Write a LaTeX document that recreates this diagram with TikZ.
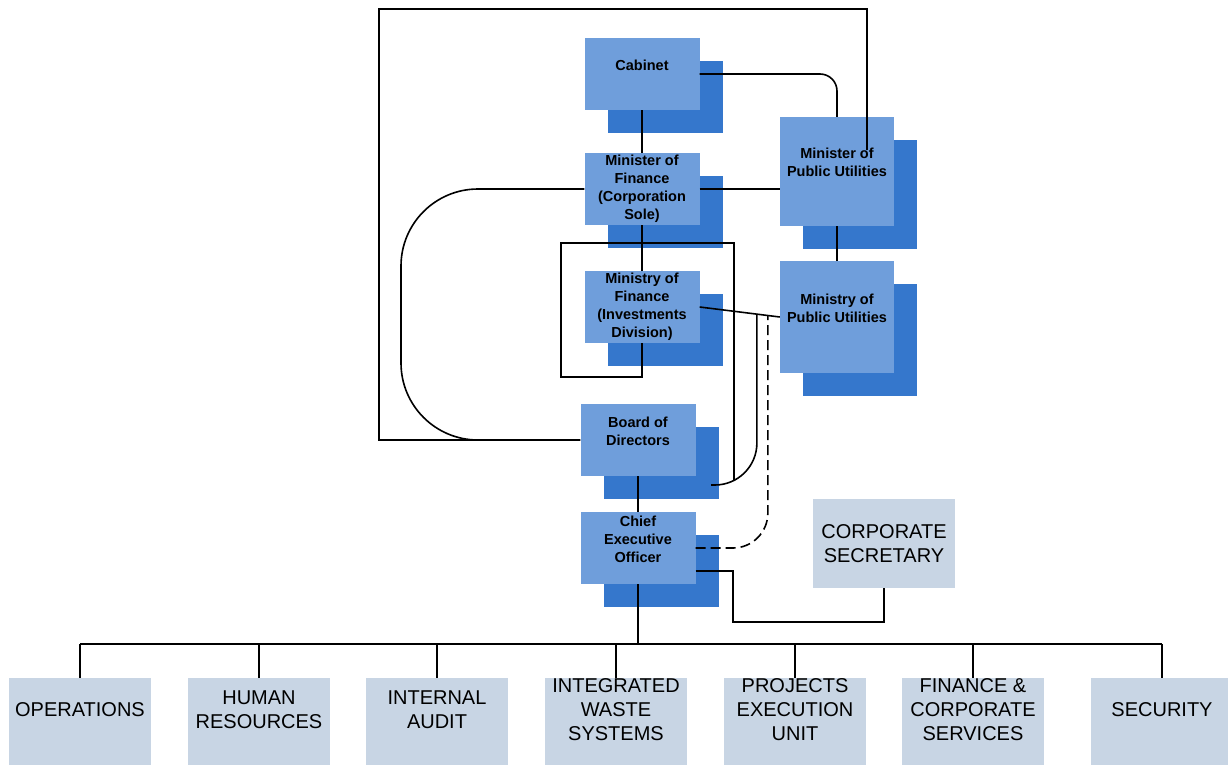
\documentclass[tikz,border=0pt]{standalone}
\usepackage{fontspec}
\setmainfont{Liberation Sans}
\usetikzlibrary{shadows,calc}

\definecolor{unitblue}{HTML}{6F9EDB}
\definecolor{shadeblue}{HTML}{3577CC}
\definecolor{deptgray}{HTML}{C8D5E4}

\tikzset{
  unit/.style={fill=unitblue, inner sep=0pt, minimum width=115pt, minimum height=72pt,
    drop shadow={shadow xshift=23pt, shadow yshift=-23pt, fill=shadeblue, opacity=1}},
  dept/.style={fill=deptgray, inner sep=0pt, minimum width=142pt, minimum height=88pt},
  unittext/.style={font=\fontsize{14.5}{18}\selectfont\bfseries, align=center},
  depttext/.style={font=\fontsize{20}{24}\selectfont, align=center},
  lift/.style={yshift=#1},
  link/.style={line width=1.6pt},
}

\begin{document}
\begin{tikzpicture}[x=1pt,y=-1pt]
\useasboundingbox (0,0) rectangle (1228,765);

% boards and ministries
\node[unit, label={[unittext,lift=9pt]center:Cabinet}] (cabinet) at (642,74) {};
\node[unit, label={[unittext]center:{Minister of\\Finance\\(Corporation\\Sole)}}] (mof) at (642,189) {};
\node[unit, minimum width=114pt, minimum height=109pt,
  label={[unittext,lift=9pt]center:{Minister of\\Public Utilities}}] (mpu) at (837,171.5) {};
\node[unit, label={[unittext]center:{Ministry of\\Finance\\(Investments\\Division)}}] (mif) at (642,307) {};
\node[unit, minimum width=114pt, minimum height=112pt,
  label={[unittext,lift=9pt]center:{Ministry of\\Public Utilities}}] (mipu) at (837,317) {};
\node[unit, label={[unittext,lift=9pt]center:{Board of\\Directors}}] (board) at (638,440) {};
\node[unit, label={[unittext,lift=9pt]center:{Chief\\Executive\\Officer}}] (ceo) at (638,548) {};
\node[dept, minimum height=89pt, label={[depttext]center:{CORPORATE\\SECRETARY}}] (corpsec) at (884,543.5) {};

% departments
\node[dept, label={[depttext,lift=12pt]center:OPERATIONS}] (ops) at (80,722) {};
\node[dept, label={[depttext,lift=12pt]center:{HUMAN\\RESOURCES}}] (hr) at (259,722) {};
\node[dept, label={[depttext,lift=12pt]center:{INTERNAL\\AUDIT}}] (audit) at (437,722) {};
\node[dept, label={[depttext,lift=12pt]center:{INTEGRATED\\WASTE\\SYSTEMS}}] (waste) at (616,722) {};
\node[dept, label={[depttext,lift=12pt]center:{PROJECTS\\EXECUTION\\UNIT}}] (projects) at (795,722) {};
\node[dept, label={[depttext,lift=12pt]center:{FINANCE \&\\CORPORATE\\SERVICES}}] (finance) at (973,722) {};
\node[dept, label={[depttext,lift=12pt]center:SECURITY}] (security) at (1162,722) {};

% bends
\coordinate (outerleft) at (379,9);
\coordinate (outerend) at (867,150);
\coordinate (loopleft) at (401,440);
\coordinate (mifboxbl) at (561,377);
\coordinate (mifboxtr) at (734,243);
\coordinate (mifboxend) at (734,480);
\coordinate (boardtap) at (711,485);
\coordinate (linktap) at ($(mif.east)!0.714!(mipu.west)$);
\coordinate (dashtap) at ($(mif.east)!0.851!(mipu.west)$);
\coordinate (secjoint) at (733,622);
\coordinate (bus) at (638,644);

\draw[link] (cabinet.south) -- (mof.north);
\draw[link, rounded corners=17pt] (cabinet.east) -| (mpu.north);
\draw[link] (board.west) -| (outerleft) -| (outerend);
\draw[link, rounded corners=77pt] (mof.west) -| (loopleft) -- (board.west);
\draw[link] (mof.east) -- (mof.east -| mpu.west);
\draw[link] (mof.south) -- (mif.north);
\draw[link] (mpu.south) -- (mipu.north);
\draw[link] (mif.south) |- (mifboxbl) |- (mifboxtr) -- (mifboxend);
\draw[link] (mif.east) -- (mipu.west);
\draw[link, rounded corners=42pt] (boardtap) -| (linktap);
\draw[link, dash pattern=on 10pt off 5pt, rounded corners=35pt] (ceo.east) -| (dashtap);
\draw[link] ([yshift=-23pt]ceo.east) -| (secjoint) -| (corpsec.south);
\draw[link] (board.south) -- (ceo.north);
\draw[link] (ceo.south) -- (bus);
\draw[link] (ops.north |- bus) -- (security.north |- bus);
\foreach \dept in {ops,hr,audit,waste,projects,finance,security}
  \draw[link] (\dept.north) -- (\dept.north |- bus);
\end{tikzpicture}
\end{document}
